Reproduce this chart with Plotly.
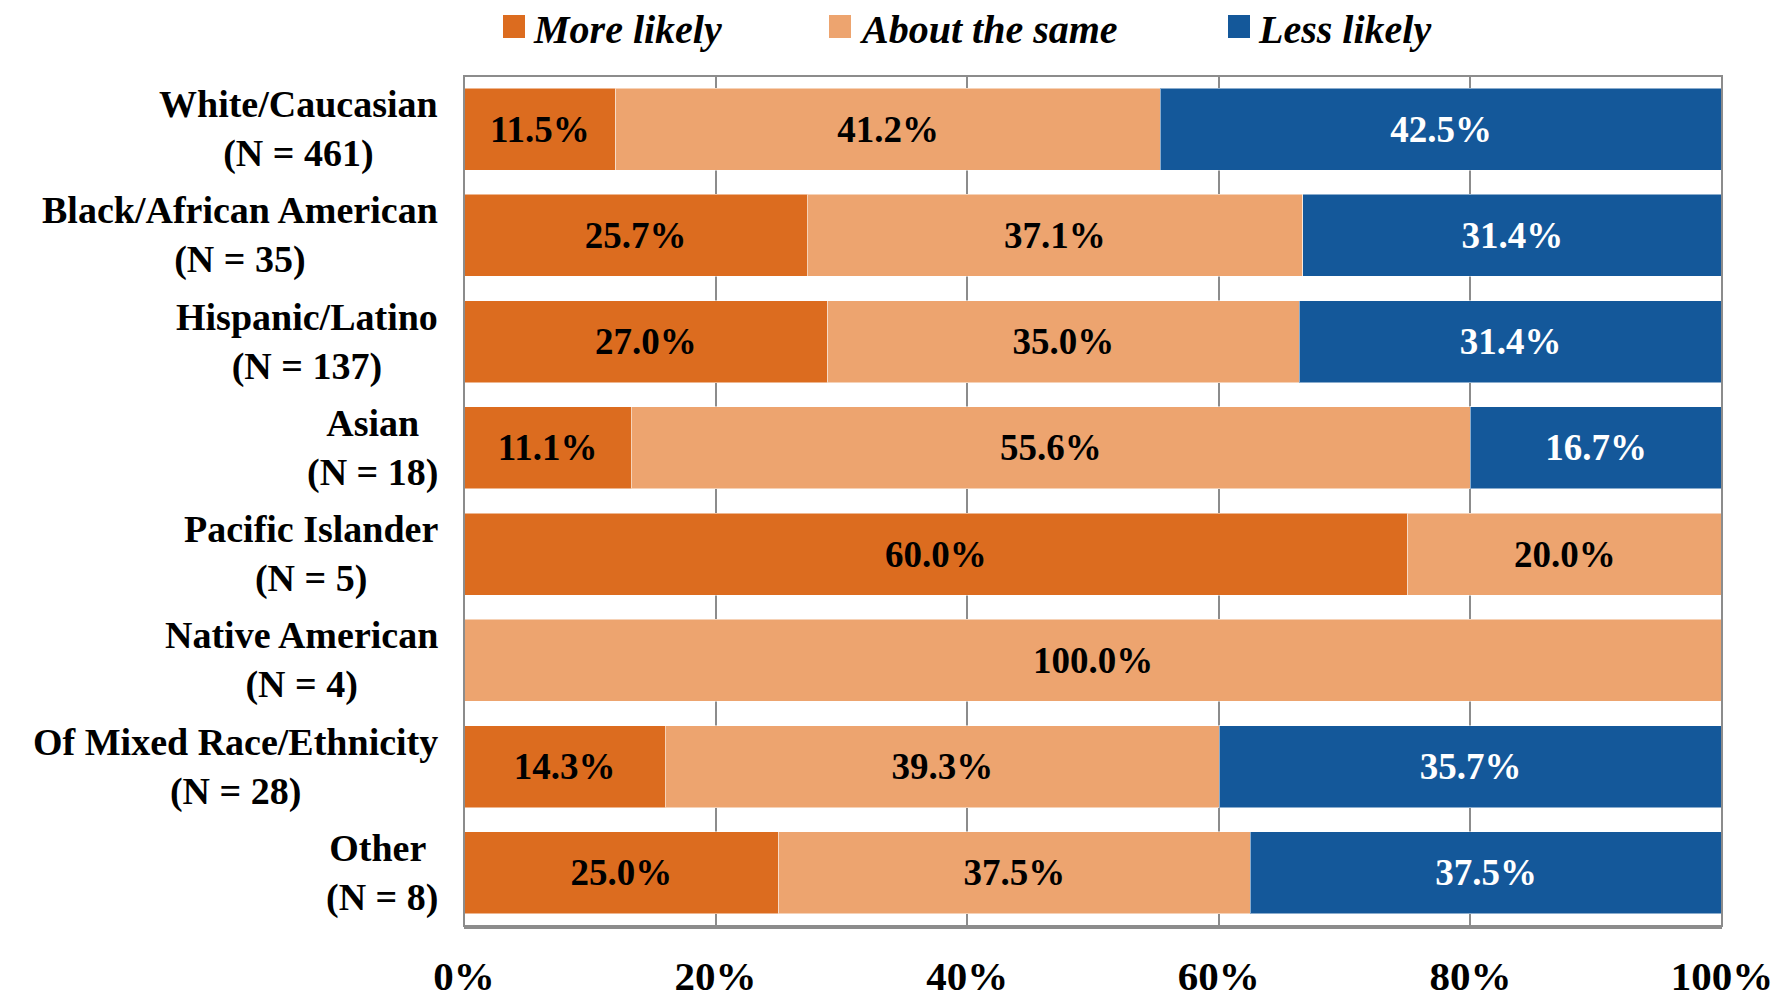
import plotly.graph_objects as go

categories = ["White/Caucasian", "Black/African American", "Hispanic/Latino", "Asian",
              "Pacific Islander", "Native American", "Of Mixed Race/Ethnicity", "Other"]
counts = [461, 35, 137, 18, 5, 4, 28, 8]
series_names = ["More likely", "About the same", "Less likely"]
more_likely = [11.5, 25.7, 27.0, 11.1, 60.0, None, 14.3, 25.0]
about_same = [41.2, 37.1, 35.0, 55.6, 20.0, 100.0, 39.3, 37.5]
less_likely = [42.5, 31.4, 31.4, 16.7, None, None, 35.7, 37.5]
tick_vals = [0, 20, 40, 60, 80, 100]
tick_text = ["0%", "20%", "40%", "60%", "80%", "100%"]

colors = ["#DC6C1F", "#EDA46F", "#14589A"]
text_colors = ["black", "black", "white"]
FONT = "Liberation Serif"

# page body has an 8px margin; work in figure coordinates (screen - 8)
OFF = 8
W, H = 1790 - OFF, 1000 - OFF
L, R, T, B = 464 - OFF, 1722 - OFF, 76 - OFF, 926 - OFF
def px(x):
    return (x - OFF - L) / (R - L)
def py(y):
    return (B - (y - OFF)) / (B - T)

fig = go.Figure()
for name, vals, c, tc in zip(series_names, [more_likely, about_same, less_likely], colors, text_colors):
    fig.add_trace(go.Bar(
        y=categories, x=vals, name=name, orientation="h",
        marker=dict(color=c, line=dict(color="rgba(255,255,255,0.5)", width=1)),
        text=[f"{v:.1f}%" if v else "" for v in vals],
        textposition="inside", insidetextanchor="middle", textangle=0,
        insidetextfont=dict(family=FONT, size=37, color=tc, weight="bold"),
        hoverinfo="skip", showlegend=False,
    ))

# category labels (centered multi-line)
for cat, n in zip(categories, counts):
    label = cat if cat != "Other" else "Other "
    fig.add_annotation(
        x=0, xref="paper", y=cat, yref="y", xanchor="right", yanchor="middle",
        xshift=-24, align="center", showarrow=False,
        text=f"{label}<br>(N = {n})",
        font=dict(family=FONT, size=38, color="black", weight="bold"),
    )

# custom legend (screen coordinates)
leg_sq = [(503, 525), (829, 851), (1228, 1250)]
for (x0, x1), name, c in zip(leg_sq, series_names, colors):
    fig.add_shape(type="rect", xref="paper", yref="paper",
                  x0=px(x0), x1=px(x1), y0=py(38), y1=py(15),
                  fillcolor=c, line=dict(width=0))
    fig.add_annotation(x=px(x1 + 7), y=py(29), xref="paper", yref="paper",
                       xanchor="left", yanchor="middle", showarrow=False,
                       text=name, borderpad=0,
                       font=dict(family=FONT, size=40, color="black", weight="bold", style="italic"))

# border
fig.add_shape(type="rect", xref="paper", yref="paper", x0=0, x1=1, y0=0, y1=1,
              line=dict(color="#8C8C8C", width=2), layer="above")

fig.update_layout(
    width=W, height=H,
    barmode="stack", barnorm="percent", bargap=0.228,
    margin=dict(l=L, r=W - R, t=T, b=H - B, autoexpand=False),
    plot_bgcolor="white", paper_bgcolor="white",
    xaxis=dict(range=[0, 100], tickvals=tick_vals, ticktext=tick_text,
               showgrid=True, gridcolor="#8C8C8C", gridwidth=1.5,
               showline=True, linecolor="#8C8C8C", linewidth=3,
               ticks="", ticklabelstandoff=12, zeroline=False, automargin=False,
               tickfont=dict(family=FONT, size=41, color="black", weight="bold")),
    yaxis=dict(autorange="reversed", showticklabels=False, showgrid=False,
               zeroline=False, automargin=False),
)

fig.write_html("out.html")
